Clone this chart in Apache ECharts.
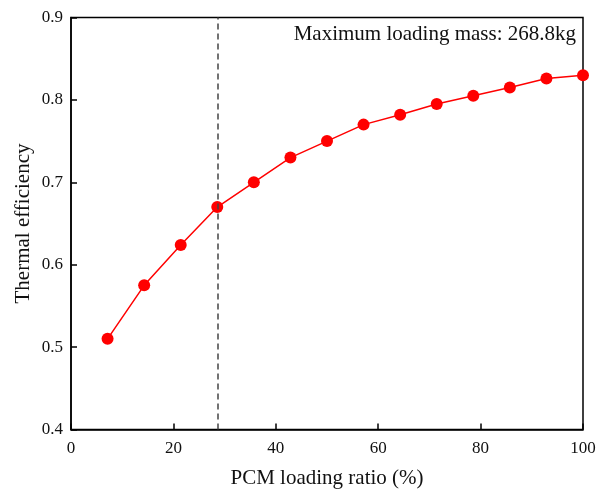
<!DOCTYPE html>
<html>
<head>
<meta charset="utf-8">
<script src="https://cdn.jsdelivr.net/npm/echarts@6/dist/echarts.min.js"></script>
<style>
  html, body { margin: 0; padding: 0; background: #fff; }
  #chart { width: 606px; height: 490px; }
</style>
</head>
<body>
<div id="chart"></div>
<script>
// PCM loading ratio (%)
const loadingRatio = [7.14, 14.29, 21.43, 28.57, 35.71, 42.86, 50, 57.14, 64.29, 71.43, 78.57, 85.71, 92.86, 100]
// thermal efficiency
const efficiency = [0.51, 0.575, 0.624, 0.67, 0.70, 0.73, 0.75, 0.77, 0.782, 0.795, 0.805, 0.815, 0.826, 0.83]
// dashed marker position
const markerX = [28.57]
const noteText = 'Maximum loading mass: 268.8kg'

const font = '"Liberation Serif", "Times New Roman", serif'

const chart = echarts.init(document.getElementById('chart'))

chart.setOption({
  animation: false,
  grid: {
    left: 71, right: 23, top: 17.5, bottom: 60.5,
    outerBoundsMode: 'none',
    containLabel: false,
    show: true, borderColor: '#000', borderWidth: 1.5
  },
  xAxis: {
    type: 'value',
    min: 0, max: 100, interval: 20,
    name: 'PCM loading ratio (%)',
    nameLocation: 'middle',
    nameGap: 38,
    nameTextStyle: { fontFamily: font, fontSize: 21, color: '#111' },
    axisLine: { lineStyle: { color: '#000', width: 1.5 } },
    axisTick: { inside: true, length: 6, lineStyle: { color: '#000', width: 1.5 } },
    axisLabel: { fontFamily: font, fontSize: 17, color: '#111', margin: 11 },
    splitLine: { show: false }
  },
  yAxis: {
    type: 'value',
    min: 0.4, max: 0.9, interval: 0.1,
    name: 'Thermal efficiency',
    nameLocation: 'middle',
    nameGap: 37,
    nameMoveOverlap: false,
    nameTextStyle: { fontFamily: font, fontSize: 21, color: '#111' },
    axisLine: { lineStyle: { color: '#000', width: 1.5 } },
    axisTick: { inside: true, length: 6, lineStyle: { color: '#000', width: 1.5 } },
    axisLabel: {
      fontFamily: font, fontSize: 17, color: '#111', margin: 8,
      formatter: v => v.toFixed(1)
    },
    splitLine: { show: false }
  },
  graphic: [{
    type: 'text',
    right: 30,
    top: 24,
    style: { text: noteText, font: '21px ' + font, fill: '#111' }
  }],
  series: [{
    type: 'line',
    data: loadingRatio.map((x, i) => [x, efficiency[i]]),
    symbol: 'circle',
    symbolSize: 12,
    clip: false,
    itemStyle: { color: '#ff0000' },
    lineStyle: { color: '#ff0000', width: 1.5 },
    markLine: {
      silent: true,
      symbol: 'none',
      label: { show: false },
      lineStyle: { color: '#444', type: [6, 4], width: 1.5 },
      data: markerX.map(x => ({ xAxis: x }))
    }
  }]
})
</script>
</body>
</html>
